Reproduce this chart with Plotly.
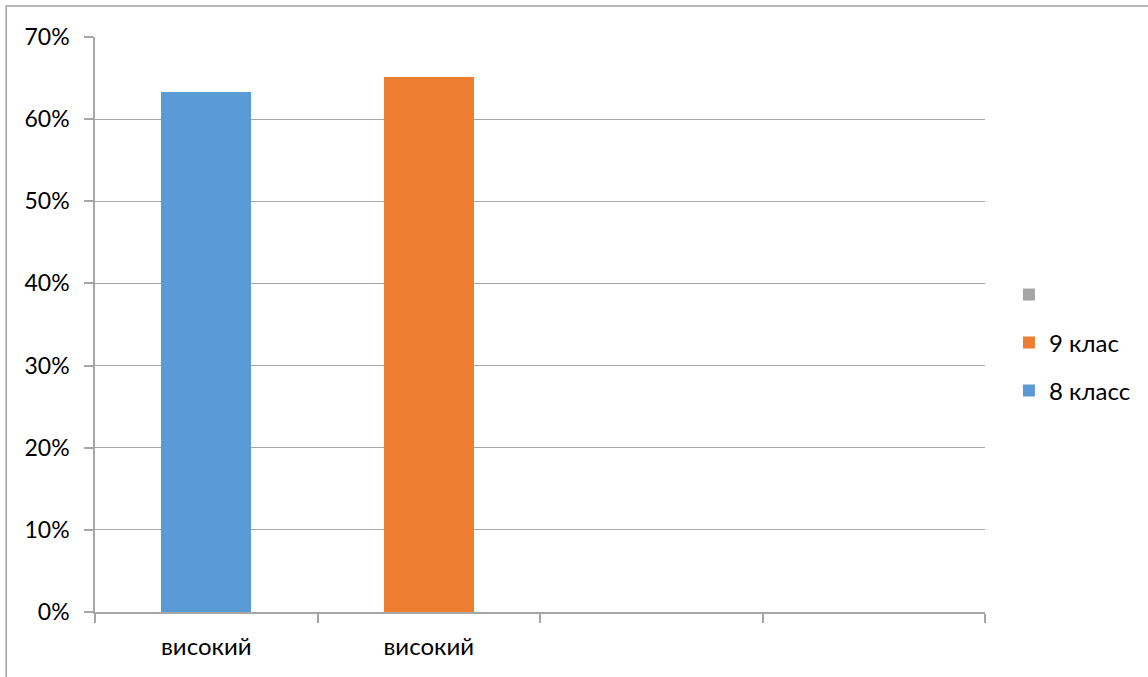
import plotly.graph_objects as go

# ---- data ----
positions = [0, 1, 2, 3]
tick_labels = ["високий", "високий", "", ""]
series_names = ["8 класс", "9 клас", " "]
s8 = [0.633, None, None, None]
s9 = [None, 0.651, None, None]
s3 = [None, None, None, None]

colors = ["#5b9bd5", "#ed7d31", "#a5a5a5"]
FONT = "Lato"
FS = 23

fig = go.Figure()
legends = ["legend", "legend2", "legend3"]
for name, vals, col, lg in zip(series_names, [s8, s9, s3], colors, legends):
    fig.add_trace(go.Bar(
        x=positions, y=vals, name=name, width=0.404,
        marker=dict(color=col, line=dict(width=0)),
        legend=lg, showlegend=True,
    ))

L, R, T, B = 95, 161, 37, 65
W, H = 1148, 677
pw, ph = W - L - R, H - T - B

def px_y(p):
    return (H - B - p) / ph

def px_x(p):
    return (p - L) / pw

leg_common = dict(xanchor="left", yanchor="middle", bgcolor="rgba(0,0,0,0)",
                  font=dict(family=FONT, size=24, color="#000000"), itemwidth=30)

fig.update_layout(
    width=W, height=H,
    margin=dict(l=L, r=R, t=T, b=B),
    paper_bgcolor="white", plot_bgcolor="white",
    barmode="stack",
    font=dict(family=FONT, size=FS, color="#000000"),
    legend=dict(x=px_x(1011), y=px_y(391), **leg_common),
    legend2=dict(x=px_x(1011), y=px_y(343), **leg_common),
    legend3=dict(x=px_x(1011), y=px_y(295), **leg_common),
    xaxis=dict(
        range=[-0.5, 3.5],
        tickmode="array", tickvals=positions, ticktext=tick_labels,
        ticks="", showgrid=False, zeroline=False,
        showline=True, linecolor="#a6a6a6", linewidth=1.5,
        tickfont=dict(family=FONT, size=24, color="#000000"),
        ticklabelstandoff=12,
        minor=dict(tickmode="linear", tick0=-0.5, dtick=1, ticks="outside",
                   ticklen=9, tickcolor="#a6a6a6", tickwidth=1.5, showgrid=False),
    ),
    yaxis=dict(
        range=[0, 0.7], dtick=0.1, tickformat=".0%",
        showgrid=True, gridcolor="#a6a6a6", gridwidth=1.2,
        zeroline=False,
        showline=True, linecolor="#a6a6a6", linewidth=1.5,
        ticks="outside", ticklen=9, tickcolor="#a6a6a6", tickwidth=1.5,
        tickfont=dict(family=FONT, size=FS, color="#000000"),
        ticklabelstandoff=10,
    ),
)

# outer chart border (partially visible, like the reference)
fig.add_shape(type="rect", xref="paper", yref="paper",
              x0=px_x(6), x1=px_x(1200), y0=px_y(720), y1=px_y(6),
              line=dict(color="#a0a0a0", width=1.5), layer="below")

fig.write_html("out.html")
